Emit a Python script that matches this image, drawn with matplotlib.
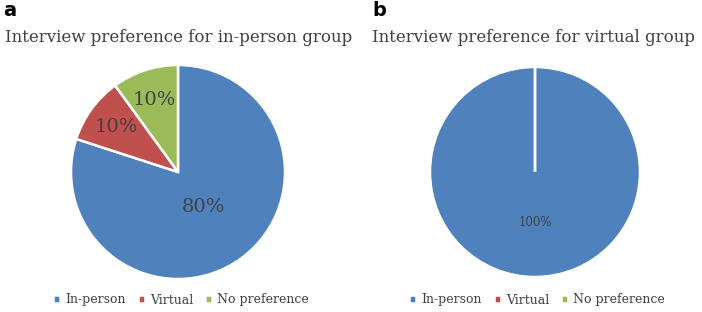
import matplotlib.pyplot as plt

categories = ['In-person', 'Virtual', 'No preference']
inperson_group = [80, 10, 10]
virtual_group = [100, 0, 0]
colors = ['#4F81BD', '#C0504D', '#9BBB59']
text_col = '#404040'

W, H = 702, 312
fig = plt.figure(figsize=(W / 100, H / 100), dpi=100)
plt.rcParams['font.family'] = 'DejaVu Serif'


def pct(v):
    return '' if v < 0.5 else f'{v:.0f}%'


def draw(ax, vals, size, dist):
    wedges, texts, autotexts = ax.pie(
        vals, colors=colors, startangle=90, counterclock=False,
        autopct=pct, pctdistance=dist,
        wedgeprops=dict(edgecolor='white', linewidth=1.8))
    for t in autotexts:
        t.set_fontsize(size)
        t.set_color(text_col)
    ax.set_xlim(-1, 1)
    ax.set_ylim(-1, 1)
    return wedges, autotexts


def pie_axes(cx, cy, r):
    return fig.add_axes([(cx - r) / W, (H - cy - r) / H, 2 * r / W, 2 * r / H])


# panel a
ax1 = pie_axes(178, 172, 107)
w1, at1 = draw(ax1, inperson_group, 14, 0.71)
# the big slice label sits closer to the centre
x, y = at1[0].get_position()
at1[0].set_position((x * 0.4 / 0.71, y * 0.4 / 0.71))

# panel b
ax2 = pie_axes(535, 172, 105)
w2, at2 = draw(ax2, virtual_group, 8.5, 0.48)

for ax, cx in [(ax1, 181 / W), (ax2, 537 / W)]:
    fig.legend(ax.patches[:3], categories, loc='center', bbox_to_anchor=(cx, 1 - 300 / H),
               ncol=3, frameon=False, fontsize=9, handlelength=0.55, handleheight=0.55,
               handletextpad=0.4, columnspacing=1.0, labelcolor=text_col)

fig.text(3 / W, 1 - 10 / H, 'a', fontsize=14, fontweight='bold', family='DejaVu Sans', va='center')
fig.text(372 / W, 1 - 10 / H, 'b', fontsize=14, fontweight='bold', family='DejaVu Sans', va='center')
fig.text(5 / W, 1 - 38 / H, 'Interview preference for in-person group', fontsize=12,
         color=text_col, va='center')
fig.text(372 / W, 1 - 38 / H, 'Interview preference for virtual group', fontsize=12,
         color=text_col, va='center')

plt.savefig('out.png', dpi=100)
